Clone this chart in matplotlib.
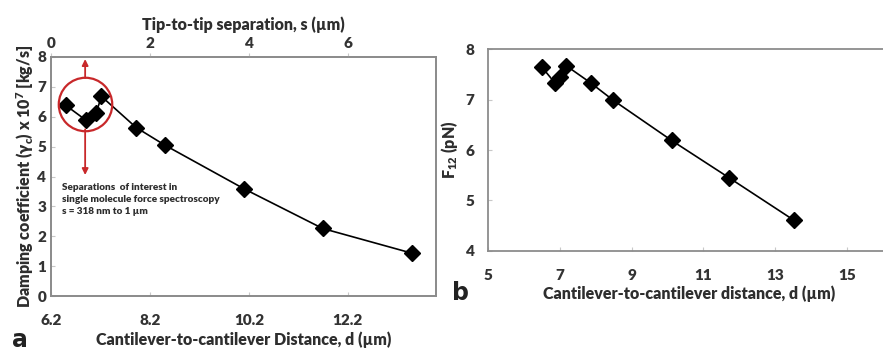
import matplotlib
matplotlib.use("Agg")
import matplotlib.pyplot as plt

plt.rcParams['font.family'] = ['Lato', 'DejaVu Sans']
plt.rcParams['font.weight'] = 'bold'
plt.rcParams['mathtext.default'] = 'regular'

# Panel a data
d_a = [6.50, 6.91, 7.11, 7.22, 7.92, 8.50, 10.11, 11.69, 13.50]
gamma_a = [6.38, 5.88, 6.12, 6.68, 5.64, 5.05, 3.58, 2.26, 1.43]
a_xticks = [6.2, 8.2, 10.2, 12.2]
a_top_ticks = [0, 2, 4, 6]
a_yticks = [0, 1, 2, 3, 4, 5, 6, 7, 8]

# Panel b data
d_b = [6.49, 6.86, 7.00, 7.18, 7.86, 8.48, 10.11, 11.71, 13.51]
f12_b = [7.65, 7.33, 7.45, 7.67, 7.33, 6.99, 6.19, 5.45, 4.61]
b_xticks = [5, 7, 9, 11, 13, 15]
b_yticks = [4, 5, 6, 7, 8]

W, H = 883, 358
fig = plt.figure(figsize=(W / 100, H / 100), dpi=100)

spine_c = '#8c8c8c'
text_c = '#2e2e2e'
tick_c = '#333333'
red = '#c8282a'

def px(l, t, r, b):
    return [l / W, 1 - b / H, (r - l) / W, (b - t) / H]

def style(ax):
    for s in ax.spines.values():
        s.set_color(spine_c)
        s.set_linewidth(1.3)
    ax.tick_params(direction='in', length=3, color='#c8c8c8', labelsize=11,
                   labelcolor=tick_c, width=0.8)
    for lab in ax.get_xticklabels() + ax.get_yticklabels():
        lab.set_fontweight('heavy')

# ---------- panel a ----------
axa = fig.add_axes(px(51, 57, 436, 296))
axa.plot(d_a, gamma_a, color='black', lw=1.2, marker='D', ms=8.5,
         mfc='black', mec='black', zorder=3)
axa.set_xlim(6.2, 13.98)
axa.set_ylim(0, 8)
axa.set_xticks(a_xticks)
axa.set_xticklabels([str(v) for v in a_xticks])
axa.set_yticks(a_yticks)
style(axa)
axa.tick_params(axis='x', pad=13)
axa.set_xlabel('Cantilever-to-cantilever Distance, d (µm)', fontsize=11.5,
               fontweight='heavy', color=text_c, labelpad=3)
axa.set_ylabel('Damping coefficient (γ$_c$) x 10$^7$ [kg/s]', fontsize=11.5,
               fontweight='heavy', color=text_c, labelpad=1)

top = axa.twiny()
top.set_xlim(0, 13.98 - 6.2)
top.set_xticks(a_top_ticks)
style(top)
top.tick_params(axis='x', direction='out', length=3, pad=2)
top.set_xlabel('Tip-to-tip separation, s (µm)', fontsize=11.5,
               fontweight='heavy', color=text_c, labelpad=5)

# red circle and arrows
cx, cy = 6.89, 6.44
axa.plot([cx], [cy], marker='o', ms=38.5, mfc='none', mec=red, mew=1.6, zorder=4)
axa.annotate('', xy=(cx, 7.93), xytext=(cx, 7.30),
             arrowprops=dict(arrowstyle='-|>', color=red, lw=1.3,
                             mutation_scale=9, shrinkA=0, shrinkB=0))
axa.annotate('', xy=(cx, 4.05), xytext=(cx, 5.58),
             arrowprops=dict(arrowstyle='-|>', color=red, lw=1.3,
                             mutation_scale=9, shrinkA=0, shrinkB=0))
axa.text(6.42, 3.78, 'Separations  of interest in\nsingle molecule force spectroscopy\ns = 318 nm to 1 µm',
         fontsize=7.2, fontweight='heavy', color=text_c, va='top', ha='left',
         linespacing=1.45)

fig.text(12 / W, 1 - 340 / H, 'a', fontsize=17, fontweight='bold',
         color='#222222', va='center', ha='left', family='DejaVu Sans')

# ---------- panel b ----------
axb = fig.add_axes(px(488.3, 49.3, 890, 250.7))
axb.plot(d_b, f12_b, color='black', lw=1.2, marker='D', ms=8.5,
         mfc='black', mec='black', zorder=3)
axb.set_xlim(5, 16.2)
axb.set_ylim(4, 8)
axb.set_xticks(b_xticks)
axb.set_yticks(b_yticks)
style(axb)
axb.tick_params(axis='x', pad=13)
axb.tick_params(axis='y', pad=10)
axb.set_xlabel('Cantilever-to-cantilever distance, d (µm)', fontsize=11.5,
               fontweight='heavy', color=text_c, labelpad=3)
axb.set_ylabel('F$_{12}$ (pN)', fontsize=11.5, fontweight='heavy', color=text_c,
               labelpad=4)

fig.text(452 / W, 1 - 293 / H, 'b', fontsize=17, fontweight='bold',
         color='#222222', va='center', ha='left', family='DejaVu Sans')

fig.savefig('out.png', dpi=100)
